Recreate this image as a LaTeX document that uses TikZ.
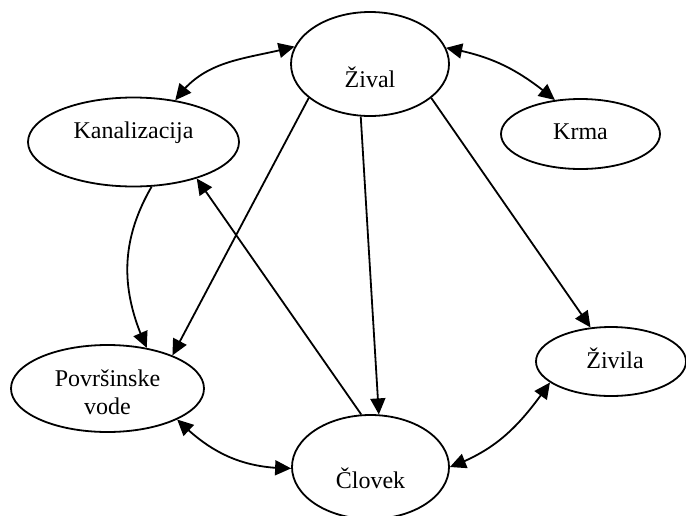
\documentclass[tikz,border=0pt]{standalone}
\usepackage{fontspec}
\setmainfont{Liberation Serif}
\usetikzlibrary{shapes.geometric, arrows.meta, bending}

\begin{document}
\begin{tikzpicture}[
  x=0.5pt, y=-0.5pt,
  line width=0.9pt,
  font=\fontsize{12}{14}\selectfont,
  state node/.style={ellipse, draw, inner sep=0pt},
  one way/.style={-{Triangle[length=8pt, width=7.5pt]}},
  two way/.style={{Triangle[length=8pt, width=7.5pt]}-{Triangle[length=8pt, width=7.5pt]}},
]
  \useasboundingbox (0,0) rectangle (686,515);

  % State nodes, node names: ziv, kan, krm, pov, clo, zvl
  \node[state node, minimum width=79pt, minimum height=52pt,
    label={[yshift=-6.5pt]center:Žival}] (ziv) at (370,64) {};
  \node[state node, minimum width=105.5pt, minimum height=44.5pt,
    label={[yshift=4.5pt]center:Kanalizacija}] (kan) at (133.5,142) {};
  \node[state node, minimum width=79.5pt, minimum height=35pt,
    label={[yshift=1pt]center:Krma}] (krm) at (580.5,134) {};
  \node[state node, minimum width=96.5pt, minimum height=43.5pt,
    label={[align=center, yshift=-1.75pt]center:Površinske\\vode}] (pov) at (107.5,388.5) {};
  \node[state node, minimum width=78.5pt, minimum height=52pt,
    label={[yshift=-5.5pt]center:Človek}] (clo) at (370.5,467) {};
  \node[state node, minimum width=75pt, minimum height=34.5pt,
    label={[xshift=2pt, yshift=1.75pt]center:Živila}] (zvl) at (611,361.5) {};

  % Straight arrows
  \foreach \a/\b in {ziv.209/pov.27, ziv.260/clo.81, ziv.331/zvl.121, clo.100/kan.330}
    \draw[one way] (\a) -- (\b);

  % Curved arrows
  \draw[two way] (kan.45) to[out=55, in=195] (ziv.167);
  \draw[two way] (ziv.12) to[out=-10, in=140] (krm.127);
  \draw[one way] (kan.292) to[out=240, in=115] (pov.46);
  \draw[two way] (pov.336) to[out=-45, in=180] (clo.181);
  \draw[two way] (clo.0) to[out=20, in=235] (zvl.199);
\end{tikzpicture}
\end{document}
